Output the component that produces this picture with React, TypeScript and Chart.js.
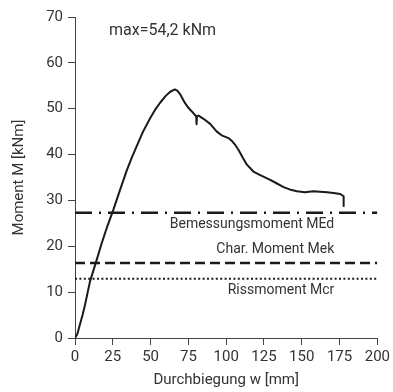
import React, { useEffect, useRef } from "react";
import { Chart, registerables } from "chart.js";

Chart.register(...registerables);

// Curve: deflection w [mm] vs moment M [kNm]
const deflection = [0, 1.5, 3.3, 5, 6.6, 9.9, 14.4, 17.7, 21, 25.4, 29.8, 34.2, 37.5, 40.9, 45, 49.7, 53, 56.3, 60, 63, 66, 67.5, 69.5, 71, 72.8, 75, 77.3, 80.2, 80.4, 80.7, 81.7, 85, 89.4, 93.8, 97, 101.5, 104, 106, 108.2, 111, 113.7, 118, 122.5, 129.1, 133, 138, 142, 146.8, 152, 157.8, 162, 166.7, 171, 175.5, 177.7, 177.7];
const moment = [0, 0.8, 3.0, 5.0, 7.2, 12.3, 17.1, 20.7, 24, 28, 32.3, 36.5, 39.3, 41.9, 45, 47.9, 49.8, 51.3, 52.8, 53.7, 54.2, 54.0, 53.2, 52.3, 51.2, 50.2, 49.4, 48.3, 46.6, 48.4, 48.5, 47.8, 46.7, 45.0, 44.2, 43.6, 42.9, 42.1, 41.0, 39.3, 37.8, 36.3, 35.5, 34.5, 33.8, 32.9, 32.4, 32.0, 31.8, 32.0, 31.9, 31.8, 31.6, 31.4, 30.9, 28.8];

// Reference moments
const refNames = ["Bemessungsmoment MEd", "Char. Moment Mek", "Rissmoment Mcr"];
const refValues = [27.3, 16.35, 12.9];
const refLabelY = [24.7, 19.25, 10.3];
const refLabelX = 171.5;

const maxText = "max=54,2 kNm";
const maxTextPos = { x: 22.5, y: 67.0 };

const xTicks = { min: 0, max: 200, step: 25 };
const yTicks = { min: 0, max: 70, step: 10 };

const AXIS = "#444";
const TEXT = "#333";
const LINE = "#1a1a1a";
const FONT = "Roboto";

export default function App() {
  const ref = useRef<HTMLCanvasElement | null>(null);

  useEffect(() => {
    if (!ref.current) return;
    const curve = deflection.map((x, i) => ({ x, y: moment[i] }));
    const dashes = [[17, 7, 2, 7], [10, 5], [2, 2.4]];
    const widths = [2.5, 2.5, 2];
    const refSets = refValues.map((v, i) => ({
      label: refNames[i],
      data: [{ x: xTicks.min, y: v }, { x: xTicks.max, y: v }],
      borderColor: LINE,
      borderWidth: widths[i],
      borderDash: dashes[i],
      pointRadius: 0,
      showLine: true,
    }));

    const textPlugin = {
      id: "texts",
      afterDatasetsDraw(chart: any) {
        const { ctx, scales } = chart;
        ctx.save();
        ctx.fillStyle = TEXT;
        ctx.textBaseline = "middle";
        ctx.font = `16px ${FONT}`;
        ctx.textAlign = "left";
        ctx.fillText(maxText, scales.x.getPixelForValue(maxTextPos.x), scales.y.getPixelForValue(maxTextPos.y));
        ctx.font = `14px ${FONT}`;
        ctx.textAlign = "right";
        refNames.forEach((n, i) => {
          ctx.fillText(n, scales.x.getPixelForValue(refLabelX), scales.y.getPixelForValue(refLabelY[i]));
        });
        ctx.restore();
      },
    };

    const chart = new Chart(ref.current, {
      type: "scatter",
      data: {
        datasets: [
          {
            label: "Moment",
            data: curve,
            borderColor: LINE,
            borderWidth: 2,
            pointRadius: 0,
            showLine: true,
            tension: 0,
            borderJoinStyle: "round",
          },
          ...refSets,
        ] as any,
      },
      options: {
        animation: false,
        responsive: false,
        layout: { padding: { top: 17, right: 15, bottom: 0, left: 0 } },
        plugins: { legend: { display: false }, tooltip: { enabled: false } },
        scales: {
          x: {
            type: "linear",
            min: xTicks.min,
            max: xTicks.max,
            border: { display: true, color: AXIS, width: 1 },
            grid: { drawOnChartArea: false, drawTicks: true, tickLength: 7, color: AXIS },
            ticks: { stepSize: xTicks.step, color: TEXT, font: { family: FONT, size: 15 }, padding: 3, maxRotation: 0 },
            title: { display: true, text: "Durchbiegung w [mm]", color: TEXT, font: { family: FONT, size: 15 }, padding: { top: 0, bottom: 3 } },
            afterFit: (s: any) => { s.height = 54; },
          },
          y: {
            type: "linear",
            min: yTicks.min,
            max: yTicks.max,
            border: { display: true, color: AXIS, width: 1 },
            grid: { drawOnChartArea: false, drawTicks: true, tickLength: 7, color: AXIS },
            ticks: { stepSize: yTicks.step, color: TEXT, font: { family: FONT, size: 15 }, padding: 5 },
            title: { display: true, text: "Moment M [kNm]", color: TEXT, font: { family: FONT, size: 15 }, padding: { top: 10, bottom: 0 } },
            afterFit: (s: any) => { s.width = 75; },
          },
        },
      },
      plugins: [textPlugin],
    });
    return () => chart.destroy();
  }, []);

  return (
    <div style={{ position: "fixed", left: 0, top: 0, width: 393, height: 392, background: "#fff" }}>
      <canvas ref={ref} width={393} height={392} />
    </div>
  );
}
